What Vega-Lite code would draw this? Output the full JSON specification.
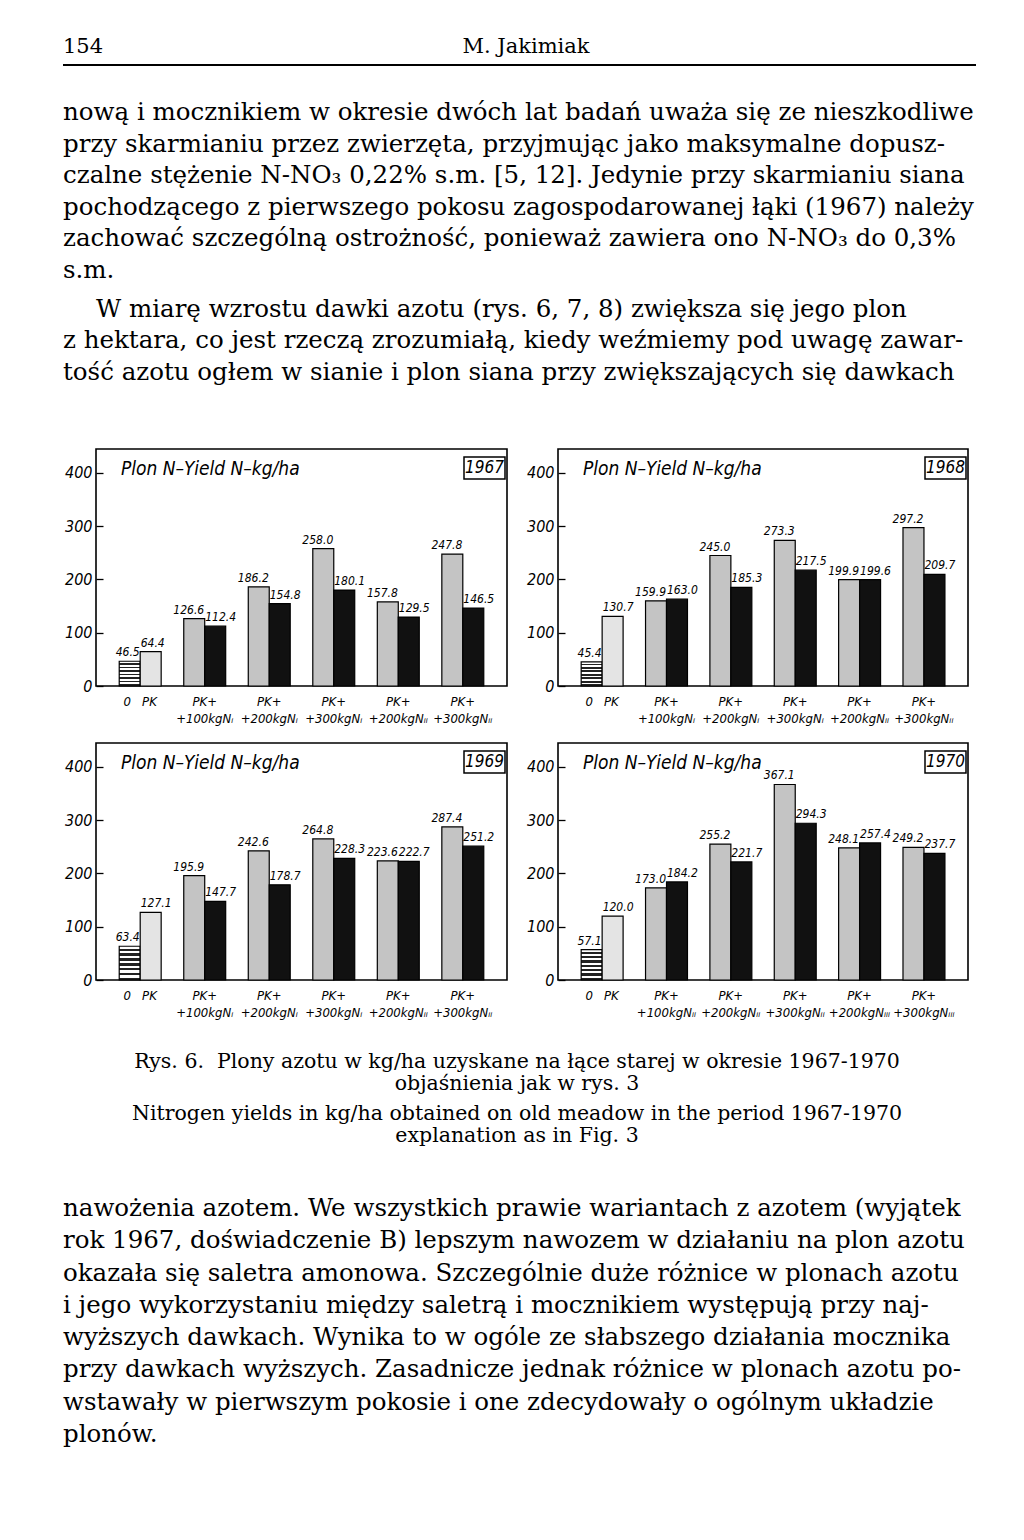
{
  "$schema": "https://vega.github.io/schema/vega-lite/v6.json",
  "background": "white",
  "padding": 0,
  "spacing": 10,
  "config": {"view": {"stroke": null}},
  "datasets": {
    "yields": [
      {"year": 1967, "group": "0\u00a0\u00a0\u00a0PK", "bar": "a", "kind": "zero", "value": 46.5},
      {"year": 1967, "group": "0\u00a0\u00a0\u00a0PK", "bar": "b", "kind": "pk", "value": 64.4},
      {"year": 1967, "group": "PK+|+100kgN\u1d62", "bar": "a", "kind": "hatch", "value": 126.6},
      {"year": 1967, "group": "PK+|+100kgN\u1d62", "bar": "b", "kind": "black", "value": 112.4},
      {"year": 1967, "group": "PK+|+200kgN\u1d62", "bar": "a", "kind": "hatch", "value": 186.2},
      {"year": 1967, "group": "PK+|+200kgN\u1d62", "bar": "b", "kind": "black", "value": 154.8},
      {"year": 1967, "group": "PK+|+300kgN\u1d62", "bar": "a", "kind": "hatch", "value": 258.0},
      {"year": 1967, "group": "PK+|+300kgN\u1d62", "bar": "b", "kind": "black", "value": 180.1},
      {"year": 1967, "group": "PK+|+200kgN\u1d62\u1d62", "bar": "a", "kind": "hatch", "value": 157.8},
      {"year": 1967, "group": "PK+|+200kgN\u1d62\u1d62", "bar": "b", "kind": "black", "value": 129.5},
      {"year": 1967, "group": "PK+|+300kgN\u1d62\u1d62", "bar": "a", "kind": "hatch", "value": 247.8},
      {"year": 1967, "group": "PK+|+300kgN\u1d62\u1d62", "bar": "b", "kind": "black", "value": 146.5},
      {"year": 1968, "group": "0\u00a0\u00a0\u00a0PK", "bar": "a", "kind": "zero", "value": 45.4},
      {"year": 1968, "group": "0\u00a0\u00a0\u00a0PK", "bar": "b", "kind": "pk", "value": 130.7},
      {"year": 1968, "group": "PK+|+100kgN\u1d62", "bar": "a", "kind": "hatch", "value": 159.9},
      {"year": 1968, "group": "PK+|+100kgN\u1d62", "bar": "b", "kind": "black", "value": 163.0},
      {"year": 1968, "group": "PK+|+200kgN\u1d62", "bar": "a", "kind": "hatch", "value": 245.0},
      {"year": 1968, "group": "PK+|+200kgN\u1d62", "bar": "b", "kind": "black", "value": 185.3},
      {"year": 1968, "group": "PK+|+300kgN\u1d62", "bar": "a", "kind": "hatch", "value": 273.3},
      {"year": 1968, "group": "PK+|+300kgN\u1d62", "bar": "b", "kind": "black", "value": 217.5},
      {"year": 1968, "group": "PK+|+200kgN\u1d62\u1d62", "bar": "a", "kind": "hatch", "value": 199.9},
      {"year": 1968, "group": "PK+|+200kgN\u1d62\u1d62", "bar": "b", "kind": "black", "value": 199.6},
      {"year": 1968, "group": "PK+|+300kgN\u1d62\u1d62", "bar": "a", "kind": "hatch", "value": 297.2},
      {"year": 1968, "group": "PK+|+300kgN\u1d62\u1d62", "bar": "b", "kind": "black", "value": 209.7},
      {"year": 1969, "group": "0\u00a0\u00a0\u00a0PK", "bar": "a", "kind": "zero", "value": 63.4},
      {"year": 1969, "group": "0\u00a0\u00a0\u00a0PK", "bar": "b", "kind": "pk", "value": 127.1},
      {"year": 1969, "group": "PK+|+100kgN\u1d62", "bar": "a", "kind": "hatch", "value": 195.9},
      {"year": 1969, "group": "PK+|+100kgN\u1d62", "bar": "b", "kind": "black", "value": 147.7},
      {"year": 1969, "group": "PK+|+200kgN\u1d62", "bar": "a", "kind": "hatch", "value": 242.6},
      {"year": 1969, "group": "PK+|+200kgN\u1d62", "bar": "b", "kind": "black", "value": 178.7},
      {"year": 1969, "group": "PK+|+300kgN\u1d62", "bar": "a", "kind": "hatch", "value": 264.8},
      {"year": 1969, "group": "PK+|+300kgN\u1d62", "bar": "b", "kind": "black", "value": 228.3},
      {"year": 1969, "group": "PK+|+200kgN\u1d62\u1d62", "bar": "a", "kind": "hatch", "value": 223.6},
      {"year": 1969, "group": "PK+|+200kgN\u1d62\u1d62", "bar": "b", "kind": "black", "value": 222.7},
      {"year": 1969, "group": "PK+|+300kgN\u1d62\u1d62", "bar": "a", "kind": "hatch", "value": 287.4},
      {"year": 1969, "group": "PK+|+300kgN\u1d62\u1d62", "bar": "b", "kind": "black", "value": 251.2},
      {"year": 1970, "group": "0\u00a0\u00a0\u00a0PK", "bar": "a", "kind": "zero", "value": 57.1},
      {"year": 1970, "group": "0\u00a0\u00a0\u00a0PK", "bar": "b", "kind": "pk", "value": 120.0},
      {"year": 1970, "group": "PK+|+100kgN\u1d62\u1d62", "bar": "a", "kind": "hatch", "value": 173.0},
      {"year": 1970, "group": "PK+|+100kgN\u1d62\u1d62", "bar": "b", "kind": "black", "value": 184.2},
      {"year": 1970, "group": "PK+|+200kgN\u1d62\u1d62", "bar": "a", "kind": "hatch", "value": 255.2},
      {"year": 1970, "group": "PK+|+200kgN\u1d62\u1d62", "bar": "b", "kind": "black", "value": 221.7},
      {"year": 1970, "group": "PK+|+300kgN\u1d62\u1d62", "bar": "a", "kind": "hatch", "value": 367.1},
      {"year": 1970, "group": "PK+|+300kgN\u1d62\u1d62", "bar": "b", "kind": "black", "value": 294.3},
      {"year": 1970, "group": "PK+|+200kgN\u1d62\u1d62\u1d62", "bar": "a", "kind": "hatch", "value": 248.1},
      {"year": 1970, "group": "PK+|+200kgN\u1d62\u1d62\u1d62", "bar": "b", "kind": "black", "value": 257.4},
      {"year": 1970, "group": "PK+|+300kgN\u1d62\u1d62\u1d62", "bar": "a", "kind": "hatch", "value": 249.2},
      {"year": 1970, "group": "PK+|+300kgN\u1d62\u1d62\u1d62", "bar": "b", "kind": "black", "value": 237.7}
    ]
  },
  "vconcat": [
    {
      "width": 860,
      "height": 438,
      "layer": [
        {"data": {"values": [{"t": "154"}]}, "mark": {"type": "text", "align": "left", "baseline": "middle", "font": "'DejaVu Serif', serif", "fontSize": 21, "color": "black"}, "encoding": {"x": {"value": -33}, "y": {"value": 47}, "text": {"field": "t"}}},
        {"data": {"values": [{"t": "M. Jakimiak"}]}, "mark": {"type": "text", "align": "center", "baseline": "middle", "font": "'DejaVu Serif', serif", "fontSize": 21, "color": "black"}, "encoding": {"x": {"value": 430}, "y": {"value": 47}, "text": {"field": "t"}}},
        {"data": {"values": [{"t": "rule"}]}, "mark": {"type": "rule", "stroke": "black", "strokeWidth": 2}, "encoding": {"x": {"value": -33}, "x2": {"value": 880}, "y": {"value": 65}}},
        {
          "data": {"values": [
            {"line": 1, "t": "nową i mocznikiem w okresie dwóch lat badań uważa się ze nieszkodliwe"},
            {"line": 2, "t": "przy skarmianiu przez zwierzęta, przyjmując jako maksymalne dopusz-"},
            {"line": 3, "t": "czalne stężenie N-NO₃ 0,22% s.m. [5, 12]. Jedynie przy skarmianiu siana"},
            {"line": 4, "t": "pochodzącego z pierwszego pokosu zagospodarowanej łąki (1967) należy"},
            {"line": 5, "t": "zachować szczególną ostrożność, ponieważ zawiera ono N-NO₃ do 0,3%"},
            {"line": 6, "t": "s.m."}
          ]},
          "mark": {"type": "text", "align": "left", "baseline": "middle", "font": "'DejaVu Serif', serif", "fontSize": 24.5, "color": "black"},
          "encoding": {"x": {"value": -33}, "y": {"field": "line", "type": "quantitative", "scale": {"domain": [1, 9], "range": [113, 365], "zero": false, "nice": false}, "axis": null}, "text": {"field": "t"}}
        },
        {
          "data": {"values": [
            {"line": 7, "t": "W miarę wzrostu dawki azotu (rys. 6, 7, 8) zwiększa się jego plon"}
          ]},
          "mark": {"type": "text", "align": "left", "baseline": "middle", "dy": 7.5, "font": "'DejaVu Serif', serif", "fontSize": 24.5, "color": "black"},
          "encoding": {"x": {"value": 0}, "y": {"field": "line", "type": "quantitative", "scale": {"domain": [1, 9], "range": [113, 365], "zero": false, "nice": false}, "axis": null}, "text": {"field": "t"}}
        },
        {
          "data": {"values": [
            {"line": 8, "t": "z hektara, co jest rzeczą zrozumiałą, kiedy weźmiemy pod uwagę zawar-"},
            {"line": 9, "t": "tość azotu ogłem w sianie i plon siana przy zwiększających się dawkach"}
          ]},
          "mark": {"type": "text", "align": "left", "baseline": "middle", "dy": 7.5, "font": "'DejaVu Serif', serif", "fontSize": 24.5, "color": "black"},
          "encoding": {"x": {"value": -33}, "y": {"field": "line", "type": "quantitative", "scale": {"domain": [1, 9], "range": [113, 365], "zero": false, "nice": false}, "axis": null}, "text": {"field": "t"}}
        }
      ]
    },
    {
      "spacing": 13,
      "vconcat": [
        {
          "spacing": 11,
          "hconcat": [
            {
              "width": 411, "height": 237,
              "view": {"stroke": "black", "strokeWidth": 1.6},
              "layer": [
                {
                  "data": {"name": "yields"},
                  "transform": [{"filter": "datum.year == 1967 && datum.kind == 'zero'"}],
                  "mark": {"type": "bar", "stroke": "black", "strokeWidth": 1.2, "fill": {"gradient": "linear", "x1": 0, "y1": 0, "x2": 0, "y2": 1, "stops": [{"offset": 0, "color": "white"}, {"offset": 0.07, "color": "white"}, {"offset": 0.07, "color": "#222"}, {"offset": 0.143, "color": "#222"}, {"offset": 0.143, "color": "white"}, {"offset": 0.214, "color": "white"}, {"offset": 0.214, "color": "#222"}, {"offset": 0.286, "color": "#222"}, {"offset": 0.286, "color": "white"}, {"offset": 0.357, "color": "white"}, {"offset": 0.357, "color": "#222"}, {"offset": 0.429, "color": "#222"}, {"offset": 0.429, "color": "white"}, {"offset": 0.5, "color": "white"}, {"offset": 0.5, "color": "#222"}, {"offset": 0.571, "color": "#222"}, {"offset": 0.571, "color": "white"}, {"offset": 0.643, "color": "white"}, {"offset": 0.643, "color": "#222"}, {"offset": 0.714, "color": "#222"}, {"offset": 0.714, "color": "white"}, {"offset": 0.786, "color": "white"}, {"offset": 0.786, "color": "#222"}, {"offset": 0.857, "color": "#222"}, {"offset": 0.857, "color": "white"}, {"offset": 0.929, "color": "white"}, {"offset": 0.929, "color": "#222"}, {"offset": 1, "color": "#222"}]}},
                  "encoding": {
                    "x": {"field": "group", "type": "nominal", "sort": null, "scale": {"paddingInner": 0.35, "paddingOuter": 0.36}, "axis": {"title": null, "domain": false, "ticks": false, "labelAngle": 0, "labelExpr": "split(datum.label, '|')", "labelFont": "'DejaVu Sans Condensed', 'DejaVu Sans', sans-serif", "labelFontStyle": "italic", "labelFontSize": 13, "labelLineHeight": 17, "labelPadding": 9, "labelColor": "black", "labelLimit": 200, "minExtent": 42, "maxExtent": 42}},
                    "xOffset": {"field": "bar", "type": "nominal", "sort": null, "scale": {"paddingInner": 0, "paddingOuter": 0}},
                    "y": {"field": "value", "type": "quantitative", "scale": {"domain": [0, 445], "nice": false}, "axis": {"title": null, "grid": false, "domain": false, "values": [0, 50, 100, 150, 200, 250, 300, 350, 400], "labelExpr": "datum.value % 100 == 0 ? datum.label : ''", "labelOverlap": false, "labelFlush": false, "tickSize": -7, "tickColor": "black", "tickWidth": 1.3, "labelPadding": 11, "labelFont": "'DejaVu Sans Condensed', 'DejaVu Sans', sans-serif", "labelFontStyle": "italic", "labelFontSize": 16, "labelColor": "black", "minExtent": 95, "maxExtent": 95}}
                  }
                },
                {
                  "data": {"name": "yields"},
                  "transform": [{"filter": "datum.year == 1967 && datum.kind != 'zero'"}],
                  "mark": {"type": "bar", "stroke": "black", "strokeWidth": 1.2},
                  "encoding": {
                    "x": {"field": "group", "type": "nominal", "sort": null},
                    "xOffset": {"field": "bar", "type": "nominal", "sort": null},
                    "y": {"field": "value", "type": "quantitative"},
                    "color": {"field": "kind", "type": "nominal", "scale": {"domain": ["pk", "hatch", "black"], "range": ["#e4e4e4", "#c4c4c4", "#111111"]}, "legend": null}
                  }
                },
                {
                  "data": {"name": "yields"},
                  "transform": [{"filter": "datum.year == 1967 && datum.bar == 'a'"}],
                  "mark": {"type": "text", "align": "right", "baseline": "bottom", "dx": 10, "dy": -2, "font": "'Liberation Sans Narrow', 'DejaVu Sans Condensed', sans-serif", "fontStyle": "italic", "fontSize": 12, "color": "black"},
                  "encoding": {"x": {"field": "group", "type": "nominal", "sort": null}, "xOffset": {"field": "bar", "type": "nominal", "sort": null}, "y": {"field": "value", "type": "quantitative"}, "text": {"field": "value", "type": "quantitative", "format": ".1f"}}
                },
                {
                  "data": {"name": "yields"},
                  "transform": [{"filter": "datum.year == 1967 && datum.bar == 'b'"}],
                  "mark": {"type": "text", "align": "left", "baseline": "bottom", "dx": -10, "dy": -2, "font": "'Liberation Sans Narrow', 'DejaVu Sans Condensed', sans-serif", "fontStyle": "italic", "fontSize": 12, "color": "black"},
                  "encoding": {"x": {"field": "group", "type": "nominal", "sort": null}, "xOffset": {"field": "bar", "type": "nominal", "sort": null}, "y": {"field": "value", "type": "quantitative"}, "text": {"field": "value", "type": "quantitative", "format": ".1f"}}
                },
                {"data": {"values": [{"t": "Plon N–Yield N–kg/ha"}]}, "mark": {"type": "text", "align": "left", "baseline": "middle", "font": "'DejaVu Sans Condensed', 'DejaVu Sans', sans-serif", "fontStyle": "italic", "fontSize": 19, "color": "black"}, "encoding": {"x": {"value": 25}, "y": {"value": 20}, "text": {"field": "t"}}},
                {"data": {"values": [{"t": "1967"}]}, "mark": {"type": "rect", "fill": "white", "stroke": "black", "strokeWidth": 1.5}, "encoding": {"x": {"value": 368}, "x2": {"value": 409}, "y": {"value": 8}, "y2": {"value": 30}}},
                {"data": {"values": [{"t": "1967"}]}, "mark": {"type": "text", "align": "center", "baseline": "middle", "font": "'DejaVu Sans Condensed', 'DejaVu Sans', sans-serif", "fontStyle": "italic", "fontSize": 17, "color": "black"}, "encoding": {"x": {"value": 388.5}, "y": {"value": 19}, "text": {"field": "t"}}}
              ]
            },
            {
              "width": 410, "height": 237,
              "view": {"stroke": "black", "strokeWidth": 1.6},
              "layer": [
                {
                  "data": {"name": "yields"},
                  "transform": [{"filter": "datum.year == 1968 && datum.kind == 'zero'"}],
                  "mark": {"type": "bar", "stroke": "black", "strokeWidth": 1.2, "fill": {"gradient": "linear", "x1": 0, "y1": 0, "x2": 0, "y2": 1, "stops": [{"offset": 0, "color": "white"}, {"offset": 0.07, "color": "white"}, {"offset": 0.07, "color": "#222"}, {"offset": 0.143, "color": "#222"}, {"offset": 0.143, "color": "white"}, {"offset": 0.214, "color": "white"}, {"offset": 0.214, "color": "#222"}, {"offset": 0.286, "color": "#222"}, {"offset": 0.286, "color": "white"}, {"offset": 0.357, "color": "white"}, {"offset": 0.357, "color": "#222"}, {"offset": 0.429, "color": "#222"}, {"offset": 0.429, "color": "white"}, {"offset": 0.5, "color": "white"}, {"offset": 0.5, "color": "#222"}, {"offset": 0.571, "color": "#222"}, {"offset": 0.571, "color": "white"}, {"offset": 0.643, "color": "white"}, {"offset": 0.643, "color": "#222"}, {"offset": 0.714, "color": "#222"}, {"offset": 0.714, "color": "white"}, {"offset": 0.786, "color": "white"}, {"offset": 0.786, "color": "#222"}, {"offset": 0.857, "color": "#222"}, {"offset": 0.857, "color": "white"}, {"offset": 0.929, "color": "white"}, {"offset": 0.929, "color": "#222"}, {"offset": 1, "color": "#222"}]}},
                  "encoding": {
                    "x": {"field": "group", "type": "nominal", "sort": null, "scale": {"paddingInner": 0.35, "paddingOuter": 0.36}, "axis": {"title": null, "domain": false, "ticks": false, "labelAngle": 0, "labelExpr": "split(datum.label, '|')", "labelFont": "'DejaVu Sans Condensed', 'DejaVu Sans', sans-serif", "labelFontStyle": "italic", "labelFontSize": 13, "labelLineHeight": 17, "labelPadding": 9, "labelColor": "black", "labelLimit": 200, "minExtent": 42, "maxExtent": 42}},
                    "xOffset": {"field": "bar", "type": "nominal", "sort": null, "scale": {"paddingInner": 0, "paddingOuter": 0}},
                    "y": {"field": "value", "type": "quantitative", "scale": {"domain": [0, 445], "nice": false}, "axis": {"title": null, "grid": false, "domain": false, "values": [0, 50, 100, 150, 200, 250, 300, 350, 400], "labelExpr": "datum.value % 100 == 0 ? datum.label : ''", "labelOverlap": false, "labelFlush": false, "tickSize": -7, "tickColor": "black", "tickWidth": 1.3, "labelPadding": 11, "labelFont": "'DejaVu Sans Condensed', 'DejaVu Sans', sans-serif", "labelFontStyle": "italic", "labelFontSize": 16, "labelColor": "black", "minExtent": 38, "maxExtent": 38}}
                  }
                },
                {
                  "data": {"name": "yields"},
                  "transform": [{"filter": "datum.year == 1968 && datum.kind != 'zero'"}],
                  "mark": {"type": "bar", "stroke": "black", "strokeWidth": 1.2},
                  "encoding": {
                    "x": {"field": "group", "type": "nominal", "sort": null},
                    "xOffset": {"field": "bar", "type": "nominal", "sort": null},
                    "y": {"field": "value", "type": "quantitative"},
                    "color": {"field": "kind", "type": "nominal", "scale": {"domain": ["pk", "hatch", "black"], "range": ["#e4e4e4", "#c4c4c4", "#111111"]}, "legend": null}
                  }
                },
                {
                  "data": {"name": "yields"},
                  "transform": [{"filter": "datum.year == 1968 && datum.bar == 'a'"}],
                  "mark": {"type": "text", "align": "right", "baseline": "bottom", "dx": 10, "dy": -2, "font": "'Liberation Sans Narrow', 'DejaVu Sans Condensed', sans-serif", "fontStyle": "italic", "fontSize": 12, "color": "black"},
                  "encoding": {"x": {"field": "group", "type": "nominal", "sort": null}, "xOffset": {"field": "bar", "type": "nominal", "sort": null}, "y": {"field": "value", "type": "quantitative"}, "text": {"field": "value", "type": "quantitative", "format": ".1f"}}
                },
                {
                  "data": {"name": "yields"},
                  "transform": [{"filter": "datum.year == 1968 && datum.bar == 'b'"}],
                  "mark": {"type": "text", "align": "left", "baseline": "bottom", "dx": -10, "dy": -2, "font": "'Liberation Sans Narrow', 'DejaVu Sans Condensed', sans-serif", "fontStyle": "italic", "fontSize": 12, "color": "black"},
                  "encoding": {"x": {"field": "group", "type": "nominal", "sort": null}, "xOffset": {"field": "bar", "type": "nominal", "sort": null}, "y": {"field": "value", "type": "quantitative"}, "text": {"field": "value", "type": "quantitative", "format": ".1f"}}
                },
                {"data": {"values": [{"t": "Plon N–Yield N–kg/ha"}]}, "mark": {"type": "text", "align": "left", "baseline": "middle", "font": "'DejaVu Sans Condensed', 'DejaVu Sans', sans-serif", "fontStyle": "italic", "fontSize": 19, "color": "black"}, "encoding": {"x": {"value": 25}, "y": {"value": 20}, "text": {"field": "t"}}},
                {"data": {"values": [{"t": "1968"}]}, "mark": {"type": "rect", "fill": "white", "stroke": "black", "strokeWidth": 1.5}, "encoding": {"x": {"value": 367}, "x2": {"value": 408}, "y": {"value": 8}, "y2": {"value": 30}}},
                {"data": {"values": [{"t": "1968"}]}, "mark": {"type": "text", "align": "center", "baseline": "middle", "font": "'DejaVu Sans Condensed', 'DejaVu Sans', sans-serif", "fontStyle": "italic", "fontSize": 17, "color": "black"}, "encoding": {"x": {"value": 387.5}, "y": {"value": 19}, "text": {"field": "t"}}}
              ]
            }
          ]
        },
        {
          "spacing": 11,
          "hconcat": [
            {
              "width": 411, "height": 237,
              "view": {"stroke": "black", "strokeWidth": 1.6},
              "layer": [
                {
                  "data": {"name": "yields"},
                  "transform": [{"filter": "datum.year == 1969 && datum.kind == 'zero'"}],
                  "mark": {"type": "bar", "stroke": "black", "strokeWidth": 1.2, "fill": {"gradient": "linear", "x1": 0, "y1": 0, "x2": 0, "y2": 1, "stops": [{"offset": 0, "color": "white"}, {"offset": 0.07, "color": "white"}, {"offset": 0.07, "color": "#222"}, {"offset": 0.143, "color": "#222"}, {"offset": 0.143, "color": "white"}, {"offset": 0.214, "color": "white"}, {"offset": 0.214, "color": "#222"}, {"offset": 0.286, "color": "#222"}, {"offset": 0.286, "color": "white"}, {"offset": 0.357, "color": "white"}, {"offset": 0.357, "color": "#222"}, {"offset": 0.429, "color": "#222"}, {"offset": 0.429, "color": "white"}, {"offset": 0.5, "color": "white"}, {"offset": 0.5, "color": "#222"}, {"offset": 0.571, "color": "#222"}, {"offset": 0.571, "color": "white"}, {"offset": 0.643, "color": "white"}, {"offset": 0.643, "color": "#222"}, {"offset": 0.714, "color": "#222"}, {"offset": 0.714, "color": "white"}, {"offset": 0.786, "color": "white"}, {"offset": 0.786, "color": "#222"}, {"offset": 0.857, "color": "#222"}, {"offset": 0.857, "color": "white"}, {"offset": 0.929, "color": "white"}, {"offset": 0.929, "color": "#222"}, {"offset": 1, "color": "#222"}]}},
                  "encoding": {
                    "x": {"field": "group", "type": "nominal", "sort": null, "scale": {"paddingInner": 0.35, "paddingOuter": 0.36}, "axis": {"title": null, "domain": false, "ticks": false, "labelAngle": 0, "labelExpr": "split(datum.label, '|')", "labelFont": "'DejaVu Sans Condensed', 'DejaVu Sans', sans-serif", "labelFontStyle": "italic", "labelFontSize": 13, "labelLineHeight": 17, "labelPadding": 9, "labelColor": "black", "labelLimit": 200, "minExtent": 42, "maxExtent": 42}},
                    "xOffset": {"field": "bar", "type": "nominal", "sort": null, "scale": {"paddingInner": 0, "paddingOuter": 0}},
                    "y": {"field": "value", "type": "quantitative", "scale": {"domain": [0, 445], "nice": false}, "axis": {"title": null, "grid": false, "domain": false, "values": [0, 50, 100, 150, 200, 250, 300, 350, 400], "labelExpr": "datum.value % 100 == 0 ? datum.label : ''", "labelOverlap": false, "labelFlush": false, "tickSize": -7, "tickColor": "black", "tickWidth": 1.3, "labelPadding": 11, "labelFont": "'DejaVu Sans Condensed', 'DejaVu Sans', sans-serif", "labelFontStyle": "italic", "labelFontSize": 16, "labelColor": "black", "minExtent": 95, "maxExtent": 95}}
                  }
                },
                {
                  "data": {"name": "yields"},
                  "transform": [{"filter": "datum.year == 1969 && datum.kind != 'zero'"}],
                  "mark": {"type": "bar", "stroke": "black", "strokeWidth": 1.2},
                  "encoding": {
                    "x": {"field": "group", "type": "nominal", "sort": null},
                    "xOffset": {"field": "bar", "type": "nominal", "sort": null},
                    "y": {"field": "value", "type": "quantitative"},
                    "color": {"field": "kind", "type": "nominal", "scale": {"domain": ["pk", "hatch", "black"], "range": ["#e4e4e4", "#c4c4c4", "#111111"]}, "legend": null}
                  }
                },
                {
                  "data": {"name": "yields"},
                  "transform": [{"filter": "datum.year == 1969 && datum.bar == 'a'"}],
                  "mark": {"type": "text", "align": "right", "baseline": "bottom", "dx": 10, "dy": -2, "font": "'Liberation Sans Narrow', 'DejaVu Sans Condensed', sans-serif", "fontStyle": "italic", "fontSize": 12, "color": "black"},
                  "encoding": {"x": {"field": "group", "type": "nominal", "sort": null}, "xOffset": {"field": "bar", "type": "nominal", "sort": null}, "y": {"field": "value", "type": "quantitative"}, "text": {"field": "value", "type": "quantitative", "format": ".1f"}}
                },
                {
                  "data": {"name": "yields"},
                  "transform": [{"filter": "datum.year == 1969 && datum.bar == 'b'"}],
                  "mark": {"type": "text", "align": "left", "baseline": "bottom", "dx": -10, "dy": -2, "font": "'Liberation Sans Narrow', 'DejaVu Sans Condensed', sans-serif", "fontStyle": "italic", "fontSize": 12, "color": "black"},
                  "encoding": {"x": {"field": "group", "type": "nominal", "sort": null}, "xOffset": {"field": "bar", "type": "nominal", "sort": null}, "y": {"field": "value", "type": "quantitative"}, "text": {"field": "value", "type": "quantitative", "format": ".1f"}}
                },
                {"data": {"values": [{"t": "Plon N–Yield N–kg/ha"}]}, "mark": {"type": "text", "align": "left", "baseline": "middle", "font": "'DejaVu Sans Condensed', 'DejaVu Sans', sans-serif", "fontStyle": "italic", "fontSize": 19, "color": "black"}, "encoding": {"x": {"value": 25}, "y": {"value": 20}, "text": {"field": "t"}}},
                {"data": {"values": [{"t": "1969"}]}, "mark": {"type": "rect", "fill": "white", "stroke": "black", "strokeWidth": 1.5}, "encoding": {"x": {"value": 368}, "x2": {"value": 409}, "y": {"value": 8}, "y2": {"value": 30}}},
                {"data": {"values": [{"t": "1969"}]}, "mark": {"type": "text", "align": "center", "baseline": "middle", "font": "'DejaVu Sans Condensed', 'DejaVu Sans', sans-serif", "fontStyle": "italic", "fontSize": 17, "color": "black"}, "encoding": {"x": {"value": 388.5}, "y": {"value": 19}, "text": {"field": "t"}}}
              ]
            },
            {
              "width": 410, "height": 237,
              "view": {"stroke": "black", "strokeWidth": 1.6},
              "layer": [
                {
                  "data": {"name": "yields"},
                  "transform": [{"filter": "datum.year == 1970 && datum.kind == 'zero'"}],
                  "mark": {"type": "bar", "stroke": "black", "strokeWidth": 1.2, "fill": {"gradient": "linear", "x1": 0, "y1": 0, "x2": 0, "y2": 1, "stops": [{"offset": 0, "color": "white"}, {"offset": 0.07, "color": "white"}, {"offset": 0.07, "color": "#222"}, {"offset": 0.143, "color": "#222"}, {"offset": 0.143, "color": "white"}, {"offset": 0.214, "color": "white"}, {"offset": 0.214, "color": "#222"}, {"offset": 0.286, "color": "#222"}, {"offset": 0.286, "color": "white"}, {"offset": 0.357, "color": "white"}, {"offset": 0.357, "color": "#222"}, {"offset": 0.429, "color": "#222"}, {"offset": 0.429, "color": "white"}, {"offset": 0.5, "color": "white"}, {"offset": 0.5, "color": "#222"}, {"offset": 0.571, "color": "#222"}, {"offset": 0.571, "color": "white"}, {"offset": 0.643, "color": "white"}, {"offset": 0.643, "color": "#222"}, {"offset": 0.714, "color": "#222"}, {"offset": 0.714, "color": "white"}, {"offset": 0.786, "color": "white"}, {"offset": 0.786, "color": "#222"}, {"offset": 0.857, "color": "#222"}, {"offset": 0.857, "color": "white"}, {"offset": 0.929, "color": "white"}, {"offset": 0.929, "color": "#222"}, {"offset": 1, "color": "#222"}]}},
                  "encoding": {
                    "x": {"field": "group", "type": "nominal", "sort": null, "scale": {"paddingInner": 0.35, "paddingOuter": 0.36}, "axis": {"title": null, "domain": false, "ticks": false, "labelAngle": 0, "labelExpr": "split(datum.label, '|')", "labelFont": "'DejaVu Sans Condensed', 'DejaVu Sans', sans-serif", "labelFontStyle": "italic", "labelFontSize": 13, "labelLineHeight": 17, "labelPadding": 9, "labelColor": "black", "labelLimit": 200, "minExtent": 42, "maxExtent": 42}},
                    "xOffset": {"field": "bar", "type": "nominal", "sort": null, "scale": {"paddingInner": 0, "paddingOuter": 0}},
                    "y": {"field": "value", "type": "quantitative", "scale": {"domain": [0, 445], "nice": false}, "axis": {"title": null, "grid": false, "domain": false, "values": [0, 50, 100, 150, 200, 250, 300, 350, 400], "labelExpr": "datum.value % 100 == 0 ? datum.label : ''", "labelOverlap": false, "labelFlush": false, "tickSize": -7, "tickColor": "black", "tickWidth": 1.3, "labelPadding": 11, "labelFont": "'DejaVu Sans Condensed', 'DejaVu Sans', sans-serif", "labelFontStyle": "italic", "labelFontSize": 16, "labelColor": "black", "minExtent": 38, "maxExtent": 38}}
                  }
                },
                {
                  "data": {"name": "yields"},
                  "transform": [{"filter": "datum.year == 1970 && datum.kind != 'zero'"}],
                  "mark": {"type": "bar", "stroke": "black", "strokeWidth": 1.2},
                  "encoding": {
                    "x": {"field": "group", "type": "nominal", "sort": null},
                    "xOffset": {"field": "bar", "type": "nominal", "sort": null},
                    "y": {"field": "value", "type": "quantitative"},
                    "color": {"field": "kind", "type": "nominal", "scale": {"domain": ["pk", "hatch", "black"], "range": ["#e4e4e4", "#c4c4c4", "#111111"]}, "legend": null}
                  }
                },
                {
                  "data": {"name": "yields"},
                  "transform": [{"filter": "datum.year == 1970 && datum.bar == 'a'"}],
                  "mark": {"type": "text", "align": "right", "baseline": "bottom", "dx": 10, "dy": -2, "font": "'Liberation Sans Narrow', 'DejaVu Sans Condensed', sans-serif", "fontStyle": "italic", "fontSize": 12, "color": "black"},
                  "encoding": {"x": {"field": "group", "type": "nominal", "sort": null}, "xOffset": {"field": "bar", "type": "nominal", "sort": null}, "y": {"field": "value", "type": "quantitative"}, "text": {"field": "value", "type": "quantitative", "format": ".1f"}}
                },
                {
                  "data": {"name": "yields"},
                  "transform": [{"filter": "datum.year == 1970 && datum.bar == 'b'"}],
                  "mark": {"type": "text", "align": "left", "baseline": "bottom", "dx": -10, "dy": -2, "font": "'Liberation Sans Narrow', 'DejaVu Sans Condensed', sans-serif", "fontStyle": "italic", "fontSize": 12, "color": "black"},
                  "encoding": {"x": {"field": "group", "type": "nominal", "sort": null}, "xOffset": {"field": "bar", "type": "nominal", "sort": null}, "y": {"field": "value", "type": "quantitative"}, "text": {"field": "value", "type": "quantitative", "format": ".1f"}}
                },
                {"data": {"values": [{"t": "Plon N–Yield N–kg/ha"}]}, "mark": {"type": "text", "align": "left", "baseline": "middle", "font": "'DejaVu Sans Condensed', 'DejaVu Sans', sans-serif", "fontStyle": "italic", "fontSize": 19, "color": "black"}, "encoding": {"x": {"value": 25}, "y": {"value": 20}, "text": {"field": "t"}}},
                {"data": {"values": [{"t": "1970"}]}, "mark": {"type": "rect", "fill": "white", "stroke": "black", "strokeWidth": 1.5}, "encoding": {"x": {"value": 367}, "x2": {"value": 408}, "y": {"value": 8}, "y2": {"value": 30}}},
                {"data": {"values": [{"t": "1970"}]}, "mark": {"type": "text", "align": "center", "baseline": "middle", "font": "'DejaVu Sans Condensed', 'DejaVu Sans', sans-serif", "fontStyle": "italic", "fontSize": 17, "color": "black"}, "encoding": {"x": {"value": 387.5}, "y": {"value": 19}, "text": {"field": "t"}}}
              ]
            }
          ]
        }
      ]
    },
    {
      "width": 860,
      "height": 510,
      "resolve": {"scale": {"y": "independent"}},
      "layer": [
        {
          "data": {"values": [
            {"line": 1, "t": "Rys. 6.\u00a0\u00a0Plony azotu w kg/ha uzyskane na łące starej w okresie 1967-1970"},
            {"line": 2, "t": "objaśnienia jak w rys. 3"}
          ]},
          "mark": {"type": "text", "align": "center", "baseline": "middle", "font": "'DejaVu Serif', serif", "fontSize": 20.5, "color": "black"},
          "encoding": {"x": {"value": 421}, "y": {"field": "line", "type": "quantitative", "scale": {"domain": [1, 2], "range": [29, 51], "zero": false, "nice": false}, "axis": null}, "text": {"field": "t"}}
        },
        {
          "data": {"values": [
            {"line": 1, "t": "Nitrogen yields in kg/ha obtained on old meadow in the period 1967-1970"},
            {"line": 2, "t": "explanation as in Fig. 3"}
          ]},
          "mark": {"type": "text", "align": "center", "baseline": "middle", "font": "'DejaVu Serif', serif", "fontSize": 20.5, "color": "black"},
          "encoding": {"x": {"value": 421}, "y": {"field": "line", "type": "quantitative", "scale": {"domain": [1, 2], "range": [81, 103], "zero": false, "nice": false}, "axis": null}, "text": {"field": "t"}}
        },
        {
          "data": {"values": [
            {"line": 1, "t": "nawożenia azotem. We wszystkich prawie wariantach z azotem (wyjątek"},
            {"line": 2, "t": "rok 1967, doświadczenie B) lepszym nawozem w działaniu na plon azotu"},
            {"line": 3, "t": "okazała się saletra amonowa. Szczególnie duże różnice w plonach azotu"},
            {"line": 4, "t": "i jego wykorzystaniu między saletrą i mocznikiem występują przy naj-"},
            {"line": 5, "t": "wyższych dawkach. Wynika to w ogóle ze słabszego działania mocznika"},
            {"line": 6, "t": "przy dawkach wyższych. Zasadnicze jednak różnice w plonach azotu po-"},
            {"line": 7, "t": "wstawały w pierwszym pokosie i one zdecydowały o ogólnym układzie"},
            {"line": 8, "t": "plonów."}
          ]},
          "mark": {"type": "text", "align": "left", "baseline": "middle", "font": "'DejaVu Serif', serif", "fontSize": 24.5, "color": "black"},
          "encoding": {"x": {"value": -33}, "y": {"field": "line", "type": "quantitative", "scale": {"domain": [1, 8], "range": [176, 402], "zero": false, "nice": false}, "axis": null}, "text": {"field": "t"}}
        }
      ]
    }
  ]
}
